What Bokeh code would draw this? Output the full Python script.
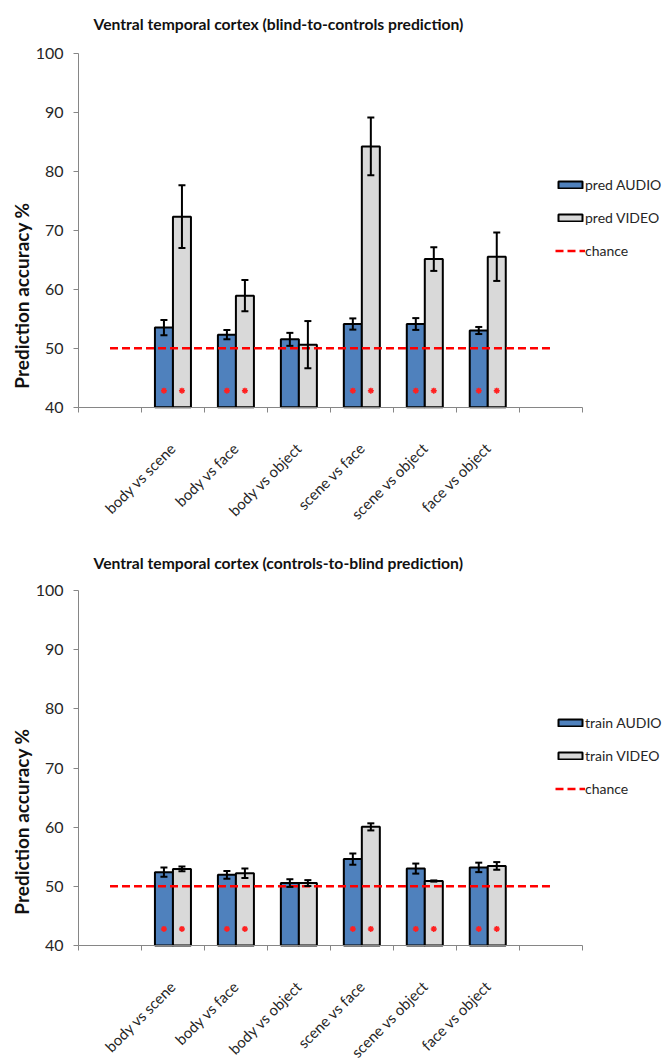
from math import pi
from bokeh.plotting import figure
from bokeh.layouts import column
from bokeh.models import (ColumnDataSource, Whisker, Range1d, FixedTicker, Legend,
                          LegendItem, Label, TeeHead)
from bokeh.embed import file_html
from bokeh.resources import INLINE

# ---------------- data ----------------
categories = ["body vs scene", "body vs face", "body vs object",
              "scene vs face", "scene vs object", "face vs object"]
y_ticks = [40, 50, 60, 70, 80, 90, 100]
chance_level = 50

top_title = "Ventral temporal cortex (blind-to-controls prediction)"
top_names = ["pred AUDIO", "pred VIDEO", "chance"]
top_audio = [53.5, 52.3, 51.5, 54.1, 54.1, 53.0]
top_audio_err = [1.3, 0.8, 1.1, 0.95, 1.0, 0.6]
top_video = [72.3, 58.9, 50.6, 84.2, 65.1, 65.5]
top_video_err = [5.3, 2.65, 4.0, 4.9, 2.0, 4.1]
top_audio_sig = [1, 1, 0, 1, 1, 1]
top_video_sig = [1, 1, 0, 1, 1, 1]

bot_title = "Ventral temporal cortex (controls-to-blind prediction)"
bot_names = ["train AUDIO", "train VIDEO", "chance"]
bot_audio = [52.4, 51.95, 50.55, 54.6, 53.0, 53.2]
bot_audio_err = [0.8, 0.65, 0.65, 0.95, 0.85, 0.8]
bot_video = [52.95, 52.2, 50.55, 60.05, 50.9, 53.45]
bot_video_err = [0.4, 0.8, 0.5, 0.6, 0.1, 0.65]
bot_audio_sig = [1, 1, 0, 1, 1, 1]
bot_video_sig = [1, 1, 0, 1, 1, 1]

# ---------------- style / layout ----------------
FONT = "Lato"
BLUE = "#4F81BD"
GREY = "#D9D9D9"
AXIS = "#868686"
TXT = "#262626"
BAR_W = 0.286
OFF = 0.143
STAR_Y = 42.8

FIG_W = 666
AXIS_LEFT_PX = 78          # pixel where the category axis starts
PX_PER_SLOT = 503.7 / 8    # width of one category slot in pixels


def make_chart(title, names, audio, audio_err, video, video_err, a_sig, v_sig,
               fig_h, y100_px, y40_px, title_y, ylab_y, legend_y):
    n = len(categories)
    xs = list(range(1, n + 1))
    xa = [x - OFF for x in xs]
    xv = [x + OFF for x in xs]
    src = ColumnDataSource(dict(
        xa=xa, xv=xv, audio=audio, video=video,
        a_up=[v + e for v, e in zip(audio, audio_err)],
        a_lo=[v - e for v, e in zip(audio, audio_err)],
        v_up=[v + e for v, e in zip(video, video_err)],
        v_lo=[v - e for v, e in zip(video, video_err)],
    ))

    x0 = -0.5 - AXIS_LEFT_PX / PX_PER_SLOT
    x1 = -0.5 + (FIG_W - AXIS_LEFT_PX) / PX_PER_SLOT
    ymin, ymax = y_ticks[0], y_ticks[-1]
    ppu = (y40_px - y100_px) / (ymax - ymin)
    yr0 = ymin - (fig_h - y40_px) / ppu
    yr1 = ymax + y100_px / ppu

    p = figure(width=FIG_W, height=fig_h,
               x_range=Range1d(x0, x1), y_range=Range1d(yr0, yr1),
               output_backend="svg", toolbar_location=None, min_border=0)
    p.outline_line_color = None
    p.grid.visible = False
    p.background_fill_color = "white"
    p.border_fill_color = "white"

    ra = p.vbar(x="xa", top="audio", bottom=ymin, width=BAR_W, source=src,
                fill_color=BLUE, line_color="black", line_width=2)
    rv = p.vbar(x="xv", top="video", bottom=ymin, width=BAR_W, source=src,
                fill_color=GREY, line_color="black", line_width=2)

    for base, up, lo in (("xa", "a_up", "a_lo"), ("xv", "v_up", "v_lo")):
        w = Whisker(base=base, upper=up, lower=lo, source=src, level="overlay",
                    line_color="black", line_width=2,
                    upper_head=TeeHead(size=7, line_width=2, line_color="black"),
                    lower_head=TeeHead(size=7, line_width=2, line_color="black"))
        p.add_layout(w)

    star_x = [x for x, s in zip(xa, a_sig) if s] + [x for x, s in zip(xv, v_sig) if s]
    p.scatter(x=star_x, y=[STAR_Y] * len(star_x), marker="asterisk", size=6,
              line_color="#FF2020", line_width=1.5)

    chance_x = list(range(0, n + 2))
    rc = p.line(x=chance_x, y=[chance_level] * len(chance_x), line_color="#FF0000",
                line_width=2.5, line_dash="8 4")

    # x axis, drawn at y = 40 and limited to the category slots
    xax = p.xaxis[0]
    xax.fixed_location = ymin
    xax.bounds = (-0.5, n + 1.5)
    xax.ticker = FixedTicker(ticks=xs, minor_ticks=[x - 0.5 for x in range(0, n + 3)])
    xax.major_label_overrides = {x: c for x, c in zip(xs, categories)}
    xax.major_label_orientation = pi / 4
    xax.major_tick_out = 0
    xax.major_tick_in = 0
    xax.minor_tick_out = 5
    xax.minor_tick_in = 0
    xax.minor_tick_line_color = AXIS
    xax.axis_line_color = AXIS
    xax.major_label_standoff = 33
    xax.major_label_text_font = FONT
    xax.major_label_text_font_size = "15px"
    xax.major_label_text_color = TXT

    # y axis, drawn at the left edge of the category slots
    yax = p.yaxis[0]
    yax.fixed_location = -0.5
    yax.bounds = (ymin, ymax)
    yax.ticker = FixedTicker(ticks=y_ticks)
    yax.minor_tick_out = 0
    yax.minor_tick_in = 0
    yax.major_tick_out = 5
    yax.major_tick_in = 0
    yax.major_tick_line_color = AXIS
    yax.axis_line_color = AXIS
    yax.major_label_standoff = 10
    yax.major_label_text_font = FONT
    yax.major_label_text_font_size = "16px"
    yax.major_label_text_color = TXT

    p.add_layout(Label(x=93, y=fig_h - title_y, x_units="screen", y_units="screen",
                       text=title, text_align="left", text_baseline="middle",
                       text_font=FONT, text_font_style="bold", text_font_size="15.7px",
                       text_color="#111111"))

    p.add_layout(Label(x=21, y=ylab_y, x_units="screen", y_units="screen",
                       text="Prediction accuracy %", angle=pi / 2,
                       text_align="center", text_baseline="middle",
                       text_font=FONT, text_font_style="bold", text_font_size="19px",
                       text_color="#111111"))

    legend = Legend(items=[LegendItem(label=names[0], renderers=[ra]),
                           LegendItem(label=names[1], renderers=[rv]),
                           LegendItem(label=names[2], renderers=[rc])],
                    location=(555, legend_y), glyph_width=30, glyph_height=9,
                    label_standoff=0, spacing=16, padding=0, margin=0,
                    border_line_color=None, background_fill_alpha=0,
                    label_text_font=FONT, label_text_font_size="14px",
                    label_text_color=TXT)
    p.add_layout(legend)
    return p


p1 = make_chart(top_title, top_names, top_audio, top_audio_err, top_video, top_video_err,
                top_audio_sig, top_video_sig, 540, 52.7, 406.7, 23, 245, 281)
p2 = make_chart(bot_title, bot_names, bot_audio, bot_audio_err, bot_video, bot_video_err,
                bot_audio_sig, bot_video_sig, 524, 50, 405, 22, 243, 267)

layout = column(p1, p2, spacing=0)
open("out.html", "w").write(file_html(layout, INLINE))
